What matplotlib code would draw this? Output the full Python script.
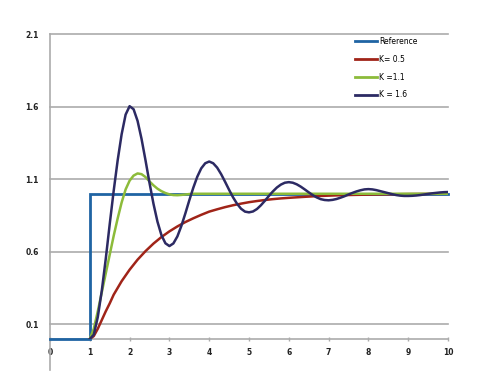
import numpy as np
import matplotlib
matplotlib.use("Agg")
import matplotlib.pyplot as plt

# ---- data ----
x_ticks = [0, 1, 2, 3, 4, 5, 6, 7, 8, 9, 10]
y_ticks = [0.1, 0.6, 1.1, 1.6, 2.1]
y_tick_labels = ["0.1", "0.6", "1.1", "1.6", "2.1"]

t_ref = [0, 1, 1, 10]
v_ref = [0, 0, 1, 1]

t_k05 = [1.0, 1.1, 1.2, 1.3, 1.4, 1.5, 1.6, 1.8, 2.0, 2.2, 2.4, 2.6, 2.8, 3.0,
         3.2, 3.4, 3.6, 3.8, 4.0, 4.2, 4.4, 4.6, 4.8, 5.0, 5.2, 5.4, 5.6, 5.8,
         6.0, 6.4, 6.8, 7.2, 7.6, 8.0, 8.5, 9.0, 9.5, 10.0]
v_k05 = [0.0, 0.02, 0.07, 0.13, 0.19, 0.245, 0.305, 0.398, 0.477, 0.546, 0.605,
         0.657, 0.702, 0.741, 0.775, 0.805, 0.831, 0.855, 0.877, 0.893, 0.908,
         0.921, 0.932, 0.942, 0.950, 0.957, 0.963, 0.968, 0.972, 0.979, 0.985,
         0.989, 0.992, 0.994, 0.996, 0.998, 0.999, 1.0]

t_k11 = [1.0, 1.1, 1.2, 1.3, 1.4, 1.5, 1.6, 1.7, 1.8, 1.9, 2.0, 2.1, 2.2, 2.3,
         2.4, 2.5, 2.6, 2.7, 2.8, 2.9, 3.0, 3.1, 3.2, 3.3, 3.4, 3.5, 3.6,
         4.0, 5.0, 6.0, 7.0, 8.0, 9.0, 10.0]
v_k11 = [0.0, 0.07, 0.19, 0.32, 0.45, 0.58, 0.71, 0.83, 0.94, 1.03, 1.09, 1.125,
         1.14, 1.135, 1.115, 1.085, 1.058, 1.035, 1.018, 1.005, 0.996, 0.991, 0.990,
         0.992, 0.995, 0.998, 1.0, 1.0, 1.0, 1.0, 1.0, 1.0, 1.0, 1.0]

t_k16 = list(np.round(np.linspace(1.0, 10.0, 91), 2))
v_k16 = [0.0, 0.03, 0.15, 0.33, 0.55, 0.79, 1.02, 1.23, 1.41, 1.545,
         1.603, 1.582, 1.502, 1.378, 1.230, 1.075, 0.931, 0.808, 0.715, 0.659,
         0.640, 0.658, 0.706, 0.778, 0.864, 0.955, 1.041, 1.117, 1.175, 1.210,
         1.222, 1.210, 1.180, 1.135, 1.082, 1.027, 0.975, 0.931, 0.897, 0.877,
         0.872, 0.878, 0.895, 0.921, 0.952, 0.985, 1.016, 1.043, 1.063, 1.076,
         1.080, 1.076, 1.065, 1.049, 1.030, 1.010, 0.991, 0.975, 0.963, 0.957,
         0.955, 0.958, 0.964, 0.973, 0.983, 0.995, 1.006, 1.016, 1.024, 1.030,
         1.032, 1.030, 1.025, 1.018, 1.011, 1.004, 0.997, 0.991, 0.987, 0.985,
         0.985, 0.986, 0.988, 0.991, 0.995, 0.999, 1.003, 1.006, 1.009, 1.011,
         1.012]

labels = ["Reference", "K= 0.5", "K =1.1", "K = 1.6"]
colors = ["#1f64a3", "#a02418", "#8cbb3a", "#2c2a63"]

# ---- figure ----
fig = plt.figure(figsize=(4.8, 3.87), dpi=100)
ax = fig.add_axes([50/480, 1-339/387, 398/480, 305/387])

grid_c = "#ababab"
for y in y_ticks:
    ax.axhline(y, color=grid_c, lw=1.2, zorder=1, clip_on=False)

ax.plot(t_ref, v_ref, color=colors[0], lw=2.0, label=labels[0], zorder=3,
        clip_on=False, solid_joinstyle="miter")
ax.plot(t_k05, v_k05, color=colors[1], lw=1.8, label=labels[1], zorder=4,
        solid_joinstyle="round")
ax.plot(t_k11, v_k11, color=colors[2], lw=1.8, label=labels[2], zorder=5,
        solid_joinstyle="round")
ax.plot(t_k16, v_k16, color=colors[3], lw=1.8, label=labels[3], zorder=6,
        solid_joinstyle="round")

ax.set_xlim(0, 10)
ax.set_ylim(0, 2.1)

for s in ["top", "right", "left"]:
    ax.spines[s].set_visible(False)
ax.spines["bottom"].set_color(grid_c)
ax.spines["bottom"].set_linewidth(1.2)
# left axis line extending below the x axis
ax.plot([0, 0], [-0.21, 2.1], color=grid_c, lw=1.2, clip_on=False, zorder=2)

ax.set_xticks(x_ticks)
ax.set_xticklabels([str(v) for v in x_ticks])
ax.set_yticks(y_ticks)
ax.set_yticklabels(y_tick_labels)
ax.tick_params(axis="x", length=3, width=1, color=grid_c, direction="inout",
               labelsize=5.5, labelcolor="#222222", pad=5)
ax.tick_params(axis="y", length=0, labelsize=5.5, labelcolor="#222222", pad=8)
for lab in ax.get_xticklabels() + ax.get_yticklabels():
    lab.set_fontweight("bold")

leg = ax.legend(loc="upper left", bbox_to_anchor=(0.767, 0.99), frameon=False,
                fontsize=5.5, handlelength=2.8, handletextpad=0.3,
                labelspacing=1.15, borderpad=0, borderaxespad=0)
for line in leg.get_lines():
    line.set_linewidth(2.0)

fig.savefig("out.png", dpi=100)
